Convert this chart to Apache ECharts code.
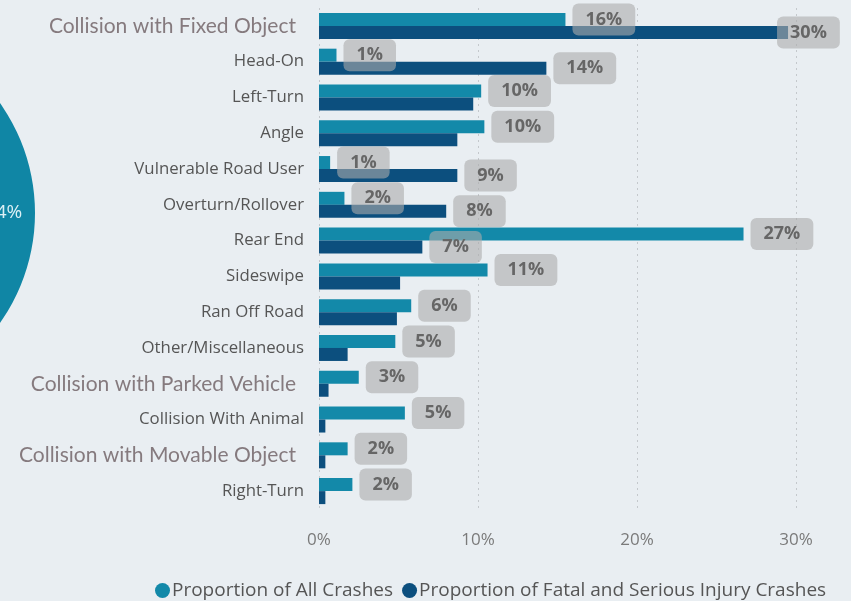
<!DOCTYPE html>
<html>
<head>
<meta charset="utf-8">
<script src="https://cdn.jsdelivr.net/npm/echarts@6/dist/echarts.min.js"></script>
<style>
html,body{margin:0;padding:0;background:#e9eef2;}
#main{width:851px;height:601px;}
</style>
</head>
<body>
<div id="main"></div>
<script>
// categories top to bottom
var categories = ['Collision with Fixed Object','Head-On','Left-Turn','Angle','Vulnerable Road User','Overturn/Rollover','Rear End','Sideswipe','Ran Off Road','Other/Miscellaneous','Collision with Parked Vehicle','Collision With Animal','Collision with Movable Object','Right-Turn'];
var allCrashes = [15.5, 1.1, 10.2, 10.4, 0.7, 1.6, 26.7, 10.6, 5.8, 4.8, 2.5, 5.4, 1.8, 2.1];
var fatalCrashes = [29.5, 14.3, 9.7, 8.7, 8.7, 8.0, 6.5, 5.1, 4.9, 1.8, 0.6, 0.4, 0.4, 0.4];
// which fatal labels are visible in the picture
var fatalLabelShown = [true, true, false, false, true, true, true, false, false, false, false, false, false, false];
var bigLabels = ['Collision with Fixed Object','Collision with Parked Vehicle','Collision with Movable Object'];
var xTicks = [0, 10, 20, 30];
var pieValue = 54;

var teal = '#1389a9';
var navy = '#0c4f7e';

var chart = echarts.init(document.getElementById('main'));

var labelStyle = {
  show: true,
  position: 'right',
  distance: 7,
  formatter: function(p){ return Math.round(p.value) + '%'; },
  color: '#666',
  fontFamily: 'Open Sans',
  fontWeight: 'bold',
  fontSize: 18,
  backgroundColor: 'rgba(172,172,172,0.6)',
  borderRadius: 6,
  padding: [8, 13, 6, 13]
};

var fatalData = fatalCrashes.map(function(v, i){
  var item = {value: v, label: {show: fatalLabelShown[i]}};
  if (i === 0) item.label.offset = [-18, 0];
  return item;
});

option = {
  backgroundColor: '#e9eef2',
  animation: false,
  grid: {left: 319, right: 55, top: 8, bottom: 92},
  legend: {
    left: 150,
    top: 576,
    icon: 'circle',
    itemWidth: 15,
    itemHeight: 15,
    itemGap: 9,
    textStyle: {color: '#555', fontSize: 19, fontFamily: 'Open Sans', padding: [0, 0, 0, -3]},
    data: ['Proportion of All Crashes', 'Proportion of Fatal and Serious Injury Crashes']
  },
  xAxis: {
    type: 'value',
    min: 0,
    max: 30,
    interval: 10,
    axisLine: {show: false},
    axisTick: {show: false},
    axisLabel: {
      margin: 23,
      color: '#7a7a7a',
      fontSize: 17,
      fontFamily: 'Open Sans',
      formatter: function(v){ return xTicks.indexOf(v) > -1 ? v + '%' : ''; }
    },
    splitLine: {lineStyle: {color: '#c4c8cc', type: [2, 4], width: 1}}
  },
  yAxis: {
    type: 'category',
    inverse: true,
    data: categories,
    axisLine: {show: false},
    axisTick: {show: false},
    axisLabel: {
      margin: 15,
      formatter: function(v){
        return bigLabels.indexOf(v) > -1 ? '{big|' + v + '}' : '{small|' + v + '}';
      },
      rich: {
        big: {color: '#857a7e', fontSize: 21, fontFamily: 'Lato', padding: [0, 8, 0, 0]},
        small: {color: '#555', fontSize: 16.8, fontFamily: 'Open Sans'}
      }
    }
  },
  series: [
    {
      name: 'Proportion of All Crashes',
      type: 'bar',
      barWidth: 13,
      barGap: '0%',
      itemStyle: {color: teal},
      label: labelStyle,
      data: allCrashes
    },
    {
      name: 'Proportion of Fatal and Serious Injury Crashes',
      type: 'bar',
      barWidth: 13,
      barGap: '0%',
      itemStyle: {color: navy},
      label: labelStyle,
      data: fatalData
    },
    {
      // cropped pie from neighbouring visual
      type: 'pie',
      silent: true,
      center: [-155, 213],
      radius: [121, 190],
      startAngle: 180,
      itemStyle: {color: '#1086a5'},
      label: {
        show: true,
        position: 'inside',
        color: '#dcf0f5',
        fontSize: 19,
        fontFamily: 'Open Sans',
        formatter: function(p){ return p.value + '%'; }
      },
      labelLine: {show: false},
      data: [{value: pieValue, name: 'pie'}]
    }
  ]
};

chart.setOption(option);
</script>
</body>
</html>
